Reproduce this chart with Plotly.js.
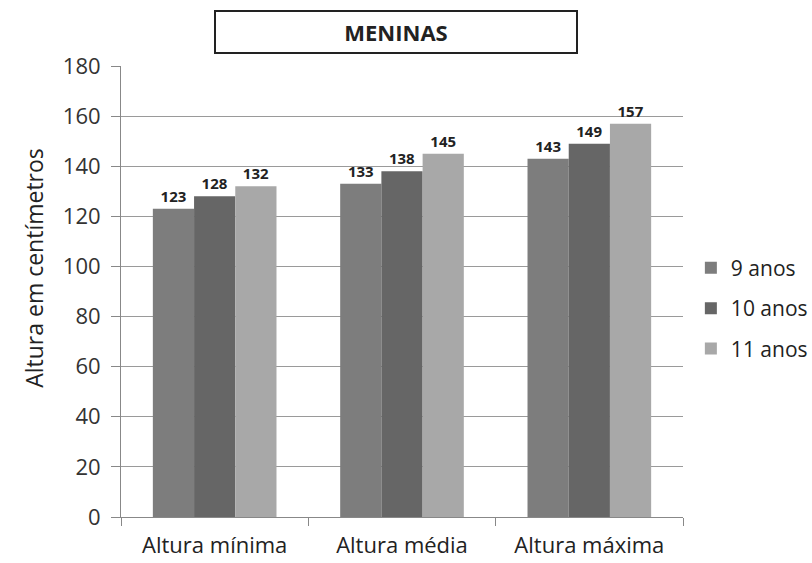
<!DOCTYPE html>
<html><head><meta charset="utf-8">
<script src="https://cdn.plot.ly/plotly-3.0.1.min.js"></script>
<style>body{margin:0;background:#fff}#c{width:812px;height:563px}</style>
</head><body><div id="c"></div>
<script>
const categories = ["Altura mínima", "Altura média", "Altura máxima"];
const seriesNames = ["9 anos", "10 anos", "11 anos"];
const values9 = [123, 133, 143];
const values10 = [128, 138, 149];
const values11 = [132, 145, 157];
const yTicks = [0, 20, 40, 60, 80, 100, 120, 140, 160, 180];
const colors = ["#7d7d7d", "#666666", "#a8a8a8"];
const allValues = [values9, values10, values11];

const traces = allValues.map((v, i) => ({
  type: "bar", x: categories, y: v, name: seriesNames[i], legendgroup: "g" + i,
  marker: {color: colors[i], line: {width: 0}},
  text: v.map(String), textposition: "outside", cliponaxis: false,
  textfont: {family: "Open Sans", size: 15, color: "#222", weight: "bold"}
}));

const layout = {
  width: 812, height: 563,
  margin: {l: 121, r: 129, t: 66, b: 46, autoexpand: false},
  paper_bgcolor: "#fff", plot_bgcolor: "#fff",
  barmode: "group", bargap: 0.34, bargroupgap: 0,
  font: {family: "Open Sans, DejaVu Sans", color: "#333"},
  xaxis: {
    showgrid: false, showline: true, linecolor: "#888", linewidth: 1,
    ticks: "outside", tickson: "boundaries", ticklen: 8, tickcolor: "#888",
    tickfont: {size: 22, color: "#222"}, ticklabelstandoff: 9
  },
  yaxis: {
    range: [0, 180], tickvals: yTicks, showgrid: true, gridcolor: "#9a9a9a", gridwidth: 1,
    showline: true, linecolor: "#888", ticks: "outside", ticklen: 9, tickcolor: "#888",
    tickfont: {size: 22, color: "#333"}, zeroline: false, ticklabelstandoff: 6
  },
  legend: {x: 1.014, xanchor: "left", y: 0.463, yanchor: "middle",
    font: {size: 21, color: "#222"}, itemwidth: 30, tracegroupgap: 10},
  showlegend: true,
  annotations: [{
    text: "<b>MENINAS</b>", xref: "paper", yref: "paper", x: 0.49, y: 1.0,
    xanchor: "center", yanchor: "bottom", yshift: 12,
    showarrow: false, font: {size: 22, color: "#222"},
    bordercolor: "#222", borderwidth: 2, bgcolor: "#fff",
    width: 358, height: 38, borderpad: 1
  }, {
    text: "Altura em centímetros", xref: "paper", yref: "paper",
    x: -0.156, y: 0.5, yshift: 24, xanchor: "center", yanchor: "middle",
    textangle: -90, showarrow: false, font: {size: 23, color: "#222"}
  }]
};
Plotly.newPlot("c", traces, layout, {displayModeBar: false});
</script></body></html>
